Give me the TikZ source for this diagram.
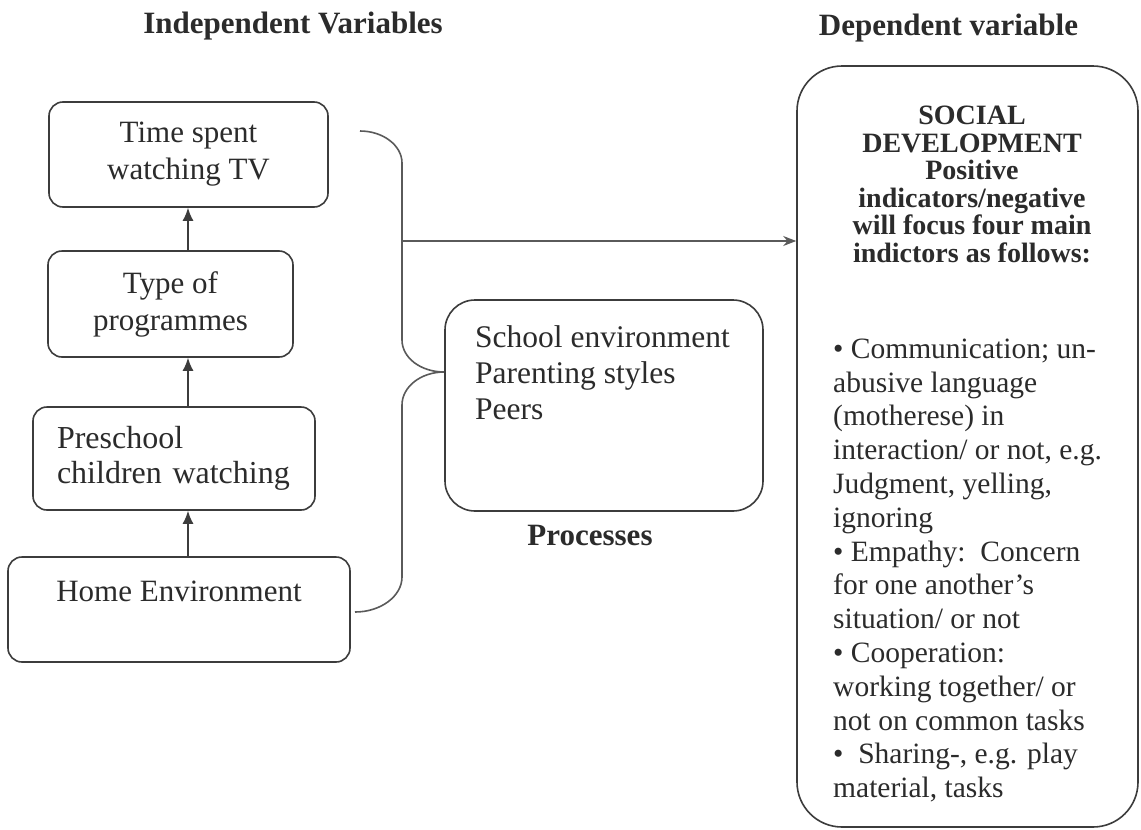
\documentclass[tikz,border=0pt]{standalone}
\usepackage{fontspec}
\setmainfont{Liberation Serif}
\usetikzlibrary{arrows.meta}
\definecolor{ink}{HTML}{2B2B2B}
\definecolor{edge}{HTML}{3C3C3C}
\definecolor{bracecol}{HTML}{5A5A5A}
\begin{document}
\lineskiplimit=-50pt\relax
\begin{tikzpicture}[x=1pt,y=-1pt,
  ivbox/.style={draw=edge, line width=1.6pt, rounded corners=14pt, inner sep=0pt,
    font=\fontsize{31}{37}\selectfont, text=ink, align=center},
  uparrow/.style={draw=edge, line width=1.5pt, -{Latex[length=13pt,width=11pt]}},
  harrow/.style={draw=bracecol, line width=1.5pt, -{Stealth[length=13pt,width=10pt]}},
  bracestyle/.style={draw=bracecol, line width=1.6pt},
  bigbox/.style={draw=edge, line width=1.6pt, inner sep=0pt},
  titletext/.style={anchor=base, inner sep=0pt, font=\fontsize{31}{37}\selectfont\bfseries, text=ink}]
\fill[white] (0,0) rectangle (1141,830);
\path[use as bounding box] (0,0) rectangle (1141,830);

% titles
\node[titletext] (tind) at (293,33) {Independent Variables};
\node[titletext] (tdep) at (948.5,35) {Dependent variable};

% independent variable boxes
\node[ivbox, minimum width=279pt, minimum height=105pt] (b1) at (188.5,154.5) {Time spent\\watching TV};
\node[ivbox, minimum width=245pt, minimum height=106pt] (b2) at (170.5,304) {Type of\\programmes};
\node[ivbox, minimum width=282pt, minimum height=103pt, align=left, text width=234pt,
  inner xsep=24pt, font=\fontsize{32}{35}\selectfont] (b3) at (174,458.5) {Preschool\\children watching};
\node[ivbox, minimum width=342pt, minimum height=105pt] (b4) at (179,609.5) {Home Environment\\\mbox{}};

\coordinate (ax) at (188,0);
\draw[uparrow] (b2.north -| ax) -- (b1.south -| ax);
\draw[uparrow] (b3.north -| ax) -- (b2.south -| ax);
\draw[uparrow] (b4.north -| ax) -- (b3.south -| ax);

% processes box
\node[bigbox, rounded corners=30pt, minimum width=318pt, minimum height=211pt] (sch) at (604,405.5) {};
\node[anchor=west, inner sep=0pt, align=left, font=\fontsize{31.5}{36}\selectfont, text=ink] (schtext) at (475,372.5)
  {School environment\\Parenting styles\\Peers};
\node[titletext] (proc) at (590,545) {Processes};

% dependent variable box
\node[bigbox, rounded corners=45pt, minimum width=341pt, minimum height=761pt] (dep) at (967.5,446.5) {};
\node[inner sep=0pt, align=center, font=\fontsize{28}{27.6}\selectfont\bfseries, text=ink] (head) at (972,184.5)
  {SOCIAL\\DEVELOPMENT\\Positive\\indicators/negative\\will focus four main\\indictors as follows:};
\node[anchor=west, inner sep=0pt, align=left, font=\fontsize{29.5}{33.8}\selectfont, text=ink] (body) at (833,570.5)
  {• Communication; un-\\abusive language\\(motherese) in\\interaction/ or not, e.g.\\Judgment, yelling,\\ignoring\\• Empathy:\ \ Concern\\for one another’s\\situation/ or not\\• Cooperation:\\working together/ or\\not on common tasks\\•\ \ Sharing-, e.g. play\\material, tasks};

% brace joining the independent variables to the processes
\coordinate (tipy) at (0,372);
\coordinate (tip) at (sch.west |- tipy);
\coordinate (btop) at (360,131);
\coordinate (bbot) at (355,612);
\draw[bracestyle] (btop) .. controls (383,131) and (402,145.4) .. (402,163) -- (402,340)
  .. controls (402,357.6) and (420.5,372) .. (tip)
  .. controls (420.5,372) and (402,387) .. (402,405) -- (402,577)
  .. controls (402,596) and (381,612) .. (bbot);

% arrow to dependent variable
\coordinate (hs) at (402,241);
\draw[harrow] (hs) -- (hs -| dep.west);
\end{tikzpicture}
\end{document}
